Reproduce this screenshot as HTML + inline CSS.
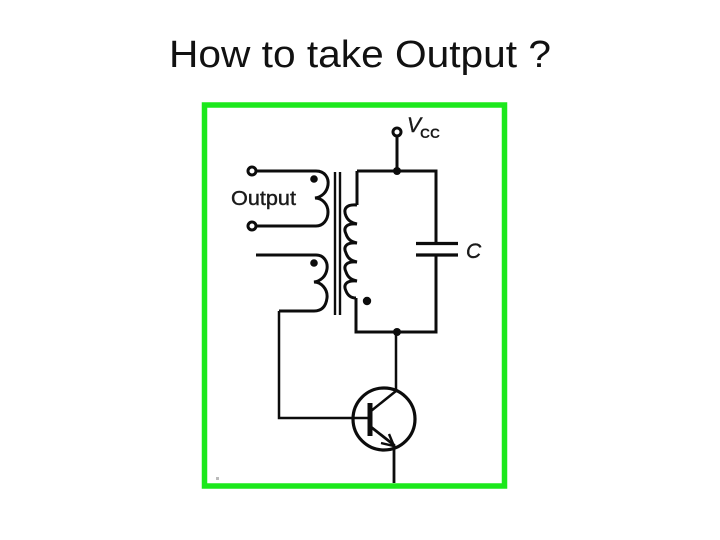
<!DOCTYPE html>
<html><head><meta charset="utf-8"><style>
html,body{margin:0;padding:0;background:#fff}
svg{display:block}
</style></head><body>
<svg width="720" height="540" viewBox="0 0 720 540" xmlns="http://www.w3.org/2000/svg">
<rect width="720" height="540" fill="#fff"/>
<text x="169" y="67" font-family="Liberation Sans, sans-serif" font-size="38" fill="#111" textLength="382" lengthAdjust="spacingAndGlyphs">How to take Output ?</text>
<rect x="204.500" y="105" width="300" height="381" fill="#fff" stroke="#1ce81c" stroke-width="5.500"/>
<rect x="216" y="477" width="3" height="3" fill="#bbb"/>
<g fill="none" stroke="#0c0c0c" stroke-width="3">
<circle cx="397" cy="132" r="4"/>
<path d="M397 136V171M357 171H436V243M357 171V205"/>
<path d="M416 243.500H458M416 255H458" stroke-width="3.200"/>
<path d="M436 255V332H356V298"/>
<path d="M357 205C346 204 343 209 346 216C348 221 352 223 357 224C346 223 343 228 346 234C348 240 352 242 357 243C346 242 343 247 346 253C348 259 352 261 357 262C346 261 343 266 346 272C348 278 352 280 357 281C346 280 343 285 346 291C348 296 352 298 356 298"/>
<path d="M335 172V315M340 172V315" stroke-width="2.400"/>
<circle cx="252" cy="171" r="4"/>
<circle cx="252" cy="226" r="4"/>
<path d="M256 171H316C325 171 329 178 328 185C327 192 322 197 315 198C322 198 328 204 328 212C328 220 323 226 316 226H256"/>
<path d="M256 255H316C324 255 328 262 327 269C326 276 321 281 314 282C321 282 328 289 327 298C326 306 322 311 314 311H279" />
<path d="M279 311V418H368" stroke-width="2.500"/>
<circle cx="384" cy="419" r="31" stroke-width="3.200"/>
<path d="M371 411L396 391V332" stroke-width="2.500"/>
<path d="M371 427L394 445V483" stroke-width="2.800"/>
<path d="M370 403V436" stroke-width="5"/>
<path d="M381 443L394 446L389 434" stroke-width="2.400"/>
</g>
<g fill="#0c0c0c">
<circle cx="397" cy="171" r="4"/>
<circle cx="397" cy="332" r="4"/>
<circle cx="314" cy="179" r="3.800"/>
<circle cx="314" cy="263" r="3.800"/>
<circle cx="367" cy="301" r="4.200"/>
</g>
<g font-family="Liberation Sans, sans-serif" fill="#1a1a1a">
<text x="231" y="205" font-size="20" textLength="65" lengthAdjust="spacingAndGlyphs" stroke="#1a1a1a" stroke-width=".4">Output</text>
<text x="407" y="132" font-size="21" font-style="italic" stroke="#1a1a1a" stroke-width=".4">V</text>
<text x="420" y="138" font-size="14" font-weight="bold" textLength="20" lengthAdjust="spacingAndGlyphs">CC</text>
<text x="466" y="258" font-size="21" font-style="italic" stroke="#1a1a1a" stroke-width=".4">C</text>
</g>
</svg>
</body></html>
